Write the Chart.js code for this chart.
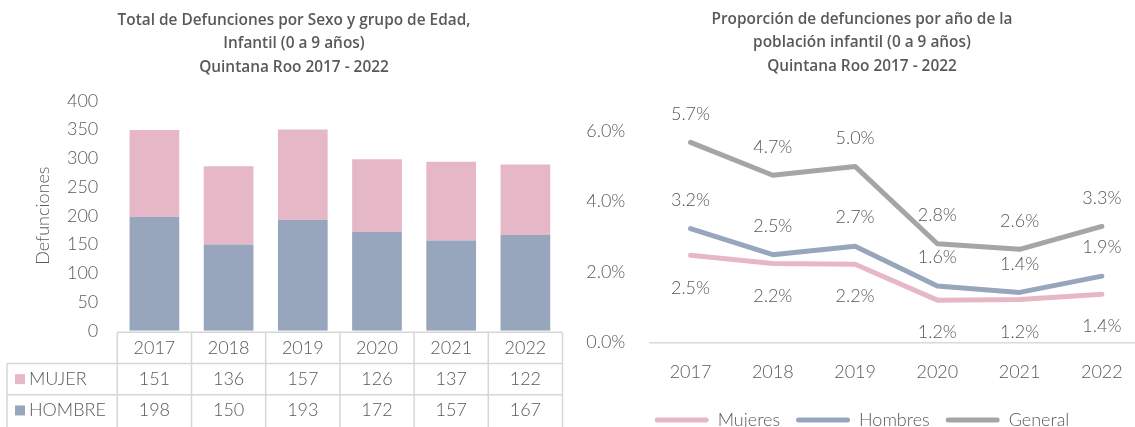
<!DOCTYPE html>
<html><head><meta charset="utf-8">
<script src="https://cdn.jsdelivr.net/npm/chart.js@4"></script>
<style>
html,body{margin:0;padding:0;background:#fff;overflow:hidden;width:1135px;height:427px;position:relative;}
#left{position:absolute;left:0;top:0;width:570px;height:427px;}
#right{position:absolute;left:570px;top:0;width:580px;height:439px;}
</style></head><body>
<div id="left"><canvas id="c1"></canvas></div>
<div id="right"><canvas id="c2"></canvas></div>
<script>
// ---- data ----
const years = ['2017','2018','2019','2020','2021','2022'];
const mujer = [151,136,157,126,137,122];
const hombre = [198,150,193,172,157,167];
const barTicks = [0,50,100,150,200,250,300,350,400];
const propMujeres = [2.47,2.24,2.22,1.20,1.22,1.37];
const propHombres = [3.23,2.49,2.73,1.60,1.42,1.88];
const propGeneral = [5.67,4.74,4.99,2.80,2.64,3.29];
const lineTicks = [0,2,4,6];

const TXT = '#595959';
const PINK = '#E6B8C7';
const BLUE = '#97A5BD';
const GREY = '#A5A5A5';
const LIGHT = "'Lato', 'Open Sans', sans-serif";
const TITLE_FONT = { family: "'Open Sans', sans-serif", size: 15.4, weight: '600', lineHeight: '23.5px' };

// ---- table under the bar chart ----
const tablePlugin = {
  id: 'dataTable',
  afterDraw(chart) {
    const ctx = chart.ctx, xs = chart.scales.x, area = chart.chartArea;
    const colW = xs.getPixelForValue(1) - xs.getPixelForValue(0);
    const L = area.left, R = area.right, leftEdge = 7;
    const rowH = 31.3;
    const r0 = area.bottom + 1.5, r1 = r0 + rowH, r2 = r1 + rowH, r3 = r2 + rowH + 3;
    ctx.save();
    ctx.strokeStyle = '#D6D6D6';
    ctx.lineWidth = 1.5;
    ctx.beginPath();
    ctx.moveTo(L, r0); ctx.lineTo(R, r0);
    ctx.moveTo(leftEdge, r1); ctx.lineTo(R, r1);
    ctx.moveTo(leftEdge, r2); ctx.lineTo(R, r2);
    ctx.moveTo(leftEdge, r1); ctx.lineTo(leftEdge, r3);
    for (let i = 0; i <= years.length; i++) {
      const x = L + i * colW;
      ctx.moveTo(x, r0); ctx.lineTo(x, r3);
    }
    ctx.stroke();
    ctx.fillStyle = TXT;
    ctx.font = "300 18px " + LIGHT;
    ctx.textAlign = 'center';
    ctx.textBaseline = 'middle';
    years.forEach((y, i) => {
      const cx = xs.getPixelForValue(i);
      ctx.fillText(y, cx, (r0 + r1) / 2);
      ctx.fillText(String(mujer[i]), cx, (r1 + r2) / 2);
      ctx.fillText(String(hombre[i]), cx, (r2 + r2 + rowH) / 2);
    });
    const rowsLbl = [[chart.data.datasets[1], (r1 + r2) / 2], [chart.data.datasets[0], (r2 + r2 + rowH) / 2]];
    ctx.textAlign = 'left';
    rowsLbl.forEach(([ds, cy]) => {
      ctx.fillStyle = ds.backgroundColor;
      ctx.fillRect(15, cy - 5, 10, 10);
      ctx.fillStyle = TXT;
      ctx.fillText(ds.label, 29, cy);
    });
    ctx.restore();
  }
};

new Chart(document.getElementById('c1'), {
  type: 'bar',
  data: {
    labels: years,
    datasets: [
      { label: 'HOMBRE', data: hombre, backgroundColor: BLUE, stack: 's' },
      { label: 'MUJER', data: mujer, backgroundColor: PINK, stack: 's' }
    ]
  },
  options: {
    responsive: true, maintainAspectRatio: false, animation: false,
    layout: { padding: { left: 25.5, right: 7.5, top: 0, bottom: 96.3 } },
    datasets: { bar: { categoryPercentage: 1, barPercentage: 0.67 } },
    plugins: {
      legend: { display: false },
      tooltip: { enabled: false },
      title: {
        display: true,
        text: ['Total de Defunciones por Sexo y grupo de Edad,', 'Infantil (0 a 9 años)', 'Quintana Roo 2017 - 2022'],
        color: TXT,
        font: TITLE_FONT,
        padding: { top: 8.5, bottom: 21.7 }
      }
    },
    scales: {
      x: { stacked: true, display: false },
      y: {
        stacked: true, min: 0, max: 400,
        afterBuildTicks: s => { s.ticks = barTicks.map(v => ({ value: v })); },
        afterFit: s => { s.width = 117.3 - 25.5; },
        grid: { display: false, drawTicks: false },
        border: { display: false },
        ticks: { color: TXT, padding: 19, font: { family: LIGHT, size: 18, weight: '300' } },
        title: { display: true, text: 'Defunciones', color: TXT, padding: { top: 7, bottom: 0 }, font: { family: LIGHT, size: 18, weight: '300' } }
      }
    }
  },
  plugins: [tablePlugin]
});

// ---- line chart ----
const lineLabels = {
  id: 'lineLabels',
  afterDatasetsDraw(chart) {
    const ctx = chart.ctx;
    ctx.save();
    ctx.fillStyle = TXT;
    ctx.font = "300 18px " + LIGHT;
    ctx.textAlign = 'center';
    ctx.textBaseline = 'middle';
    chart.data.datasets.forEach((ds, i) => {
      chart.getDatasetMeta(i).data.forEach((pt, j) => {
        ctx.fillText(ds.data[j].toFixed(1) + '%', pt.x, pt.y + ds.labelOffset);
      });
    });
    ctx.restore();
  }
};

new Chart(document.getElementById('c2'), {
  type: 'line',
  data: {
    labels: years,
    datasets: [
      { label: 'Mujeres', data: propMujeres, borderColor: PINK, backgroundColor: PINK, labelOffset: 32.5 },
      { label: 'Hombres', data: propHombres, borderColor: BLUE, backgroundColor: BLUE, labelOffset: -28.5 },
      { label: 'General', data: propGeneral, borderColor: GREY, backgroundColor: GREY, labelOffset: -28.5 }
    ]
  },
  options: {
    responsive: true, maintainAspectRatio: false, animation: false,
    layout: { padding: { left: 11, right: 7, top: 0, bottom: 0 } },
    elements: {
      line: { borderWidth: 5, tension: 0, borderCapStyle: 'round', borderJoinStyle: 'round', fill: false },
      point: { radius: 0, hoverRadius: 0 }
    },
    plugins: {
      tooltip: { enabled: false },
      title: {
        display: true,
        text: ['Proporción de defunciones por año de la', 'población infantil (0 a 9 años)', 'Quintana Roo 2017 - 2022'],
        color: TXT,
        font: TITLE_FONT,
        padding: { top: 7.5, bottom: 17.5 }
      },
      legend: {
        position: 'bottom',
        labels: {
          color: TXT,
          boxWidth: 54, boxHeight: 5,
          padding: 16,
          useBorderRadius: true, borderRadius: 2.5,
          font: { family: LIGHT, size: 18, weight: '300' },
          generateLabels: chart => Chart.defaults.plugins.legend.labels.generateLabels(chart).map(l => Object.assign(l, { lineWidth: 0, strokeStyle: 'rgba(0,0,0,0)' }))
        }
      }
    },
    scales: {
      x: {
        offset: true,
        afterFit: s => { s.height = 52.5; },
        grid: { display: false, drawTicks: false },
        border: { display: true, color: '#D9D9D9', width: 1.5 },
        ticks: { color: TXT, padding: 18.4, font: { family: LIGHT, size: 18, weight: '300' } }
      },
      y: {
        min: 0, max: 7,
        afterBuildTicks: s => { s.ticks = lineTicks.map(v => ({ value: v })); },
        afterFit: s => { s.width = 79.4 - 11; },
        grid: { display: false, drawTicks: false },
        border: { display: false },
        ticks: { color: TXT, padding: 24, callback: v => Number(v).toFixed(1) + '%', font: { family: LIGHT, size: 18, weight: '300' } }
      }
    }
  },
  plugins: [lineLabels]
});
</script>
</body></html>
